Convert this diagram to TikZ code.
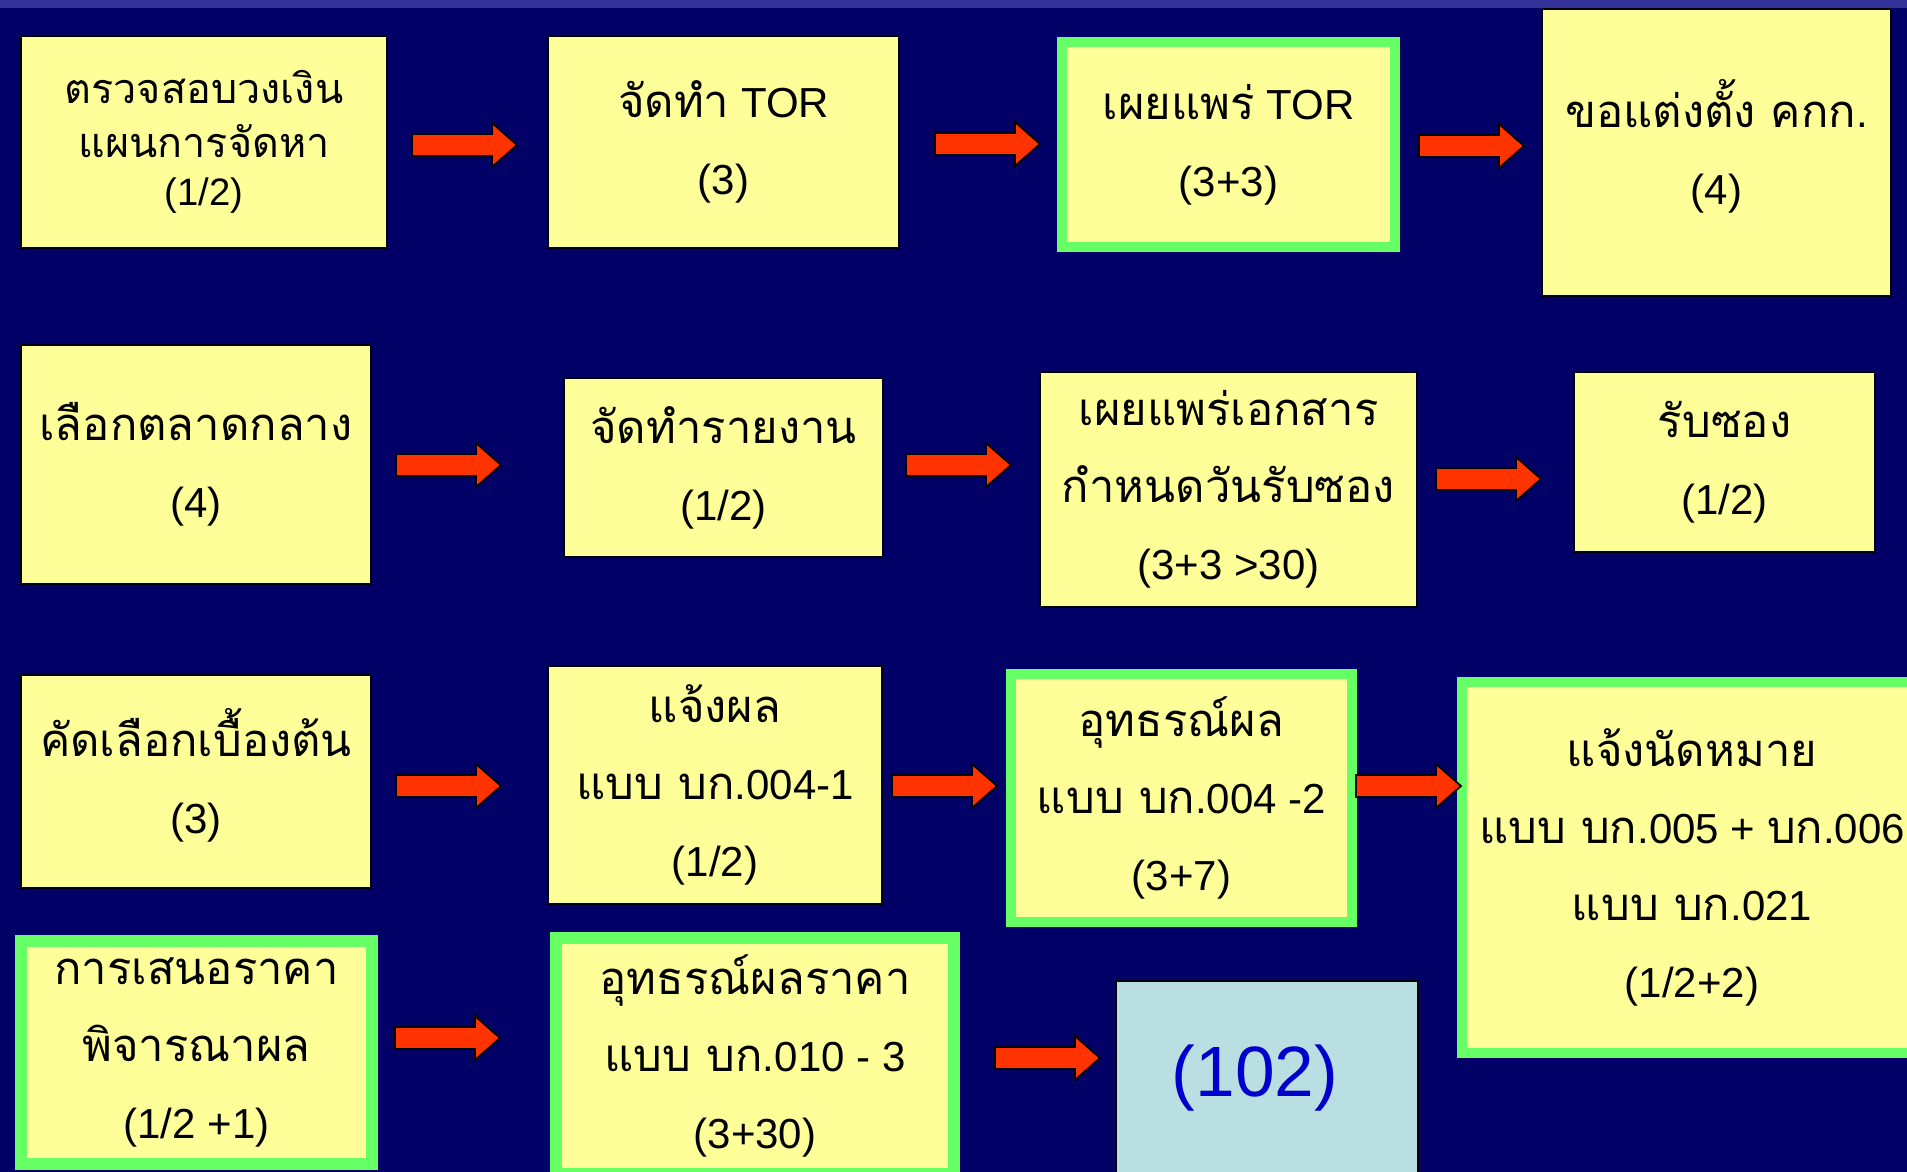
\documentclass[tikz,border=0pt]{standalone}
\usepackage{fontspec}
\setmainfont{Liberation Sans}
\newfontfamily\thai[Script=Thai,Scale=1.08]{Loma}
\usetikzlibrary{calc}
\definecolor{bg}{HTML}{000066}
\definecolor{band}{HTML}{333399}
\definecolor{ylw}{HTML}{FFFF99}
\definecolor{grn}{HTML}{66FF66}
\definecolor{arr}{HTML}{FF3300}
\definecolor{lblue}{HTML}{B9DFE3}
\definecolor{numblue}{HTML}{0000CC}
\tikzset{
  box/.style={draw=black, line width=0.8pt, fill=ylw, align=center, inner sep=0pt,
    font=\fontsize{16.8}{30.8}\selectfont},
  gbox/.style={box, draw=grn, line width=4pt},
  bluebox/.style={box, fill=lblue, text=numblue, font=\fontsize{28.5}{34}\selectfont},
  barrow/.style={fill=arr, draw=black, line width=0.7pt, line join=miter},
}
\newcommand\mkbox[7]{\node[#2, minimum width={(#5-#3)*0.4pt}, minimum height={(#6-#4)*0.4pt}] (#1) at ({(#3+#5)/2},{(#4+#6)/2}) {#7};}
\newcommand\barw[1]{\filldraw[barrow] (#1) ++(0,-11) -- ++(80,0) -- ++(0,-11) -- ++(25,22) -- ++(-25,22) -- ++(0,-11) -- ++(-80,0) -- cycle;}
\newcommand\tallth[1]{{\thai\smash{#1}\vphantom{จั}}}
\begin{document}
\begin{tikzpicture}[x=0.4pt, y=-0.4pt]
\useasboundingbox (0,0) rectangle (1907,1172);
\fill[bg] (0,0) rectangle (1907,1172);
\fill[band] (0,0) rectangle (1907,8);
\clip (0,0) rectangle (1907,1172);
% row 1
\mkbox{A1}{box, font=\fontsize{15.3}{21.5}\selectfont}{21}{36}{387}{248}{{\thai ตรวจสอบวงเงิน}\\{\thai แผนการจัดหา}\\[-2.4pt](1/2)}
\mkbox{A2}{box}{548}{36}{899}{248}{{\thai จัดทำ} TOR\\(3)}
\mkbox{A3}{gbox}{1062}{42}{1395}{247}{{\thai เผยแพร่} TOR\\(3+3)}
\mkbox{A4}{box}{1542}{9}{1891}{296}{\tallth{ขอแต่งตั้ง คกก}.\\(4)}
% row 2
\mkbox{B1}{box}{21}{345}{371}{584}{{\thai เลือกตลาดกลาง}\\(4)}
\mkbox{B2}{box}{564}{378}{883}{557}{{\thai จัดทำรายงาน}\\(1/2)}
\mkbox{B3}{box}{1040}{372}{1417}{607}{{\thai เผยแพร่เอกสาร}\\{\thai กำหนดวันรับซอง}\\(3+3 >30)}
\mkbox{B4}{box}{1574}{372}{1875}{552}{{\thai รับซอง}\\(1/2)}
% row 3
\mkbox{C1}{box}{21}{675}{371}{888}{\tallth{คัดเลือกเบื้องต้น}\\(3)}
\mkbox{C2}{box}{548}{666}{882}{904}{{\thai แจ้งผล}\\{\thai แบบ บก}.004-1\\(1/2)}
\mkbox{C3}{gbox}{1011}{674}{1352}{922}{{\thai อุทธรณ์ผล}\\{\thai แบบ บก}.004 -2\\(3+7)}
\mkbox{C4}{gbox}{1462}{682}{1922}{1053}{{\thai แจ้งนัดหมาย}\\{\thai แบบ บก}.005 + {\thai บก}.006\\{\thai แบบ บก}.021\\(1/2+2)}
% row 4
\mkbox{D1}{gbox, line width=4.8pt}{21}{941}{372}{1164}{{\thai การเสนอราคา}\\{\thai พิจารณาผล}\\(1/2 +1)}
\mkbox{D2}{gbox, line width=4.8pt}{556}{938}{954}{1174}{{\thai อุทธรณ์ผลราคา}\\{\thai แบบ บก}.010 - 3\\(3+30)}
\mkbox{D5}{bluebox}{1116}{981}{1418}{1175}{(102)\hspace*{9.6pt}}
% arrows
\barw{$(A1.east|-0,145)+(24,0)$}
\barw{$(A2.east|-0,144)+(35,0)$}
\barw{$(A3.east|-0,146)+(19,0)$}
\barw{$(B1.east|-0,465)+(24,0)$}
\barw{$(B2.east|-0,465)+(22,0)$}
\barw{$(B3.east|-0,479)+(18,0)$}
\barw{$(C1.east|-0,786)+(24,0)$}
\barw{$(C2.east|-0,786)+(9,0)$}
\barw{$(C3.east|-0,786)+(-1,0)$}
\barw{$(D1.east|-0,1038)+(17,0)$}
\barw{$(D2.east|-0,1058)+(35,0)$}
\end{tikzpicture}
\end{document}
